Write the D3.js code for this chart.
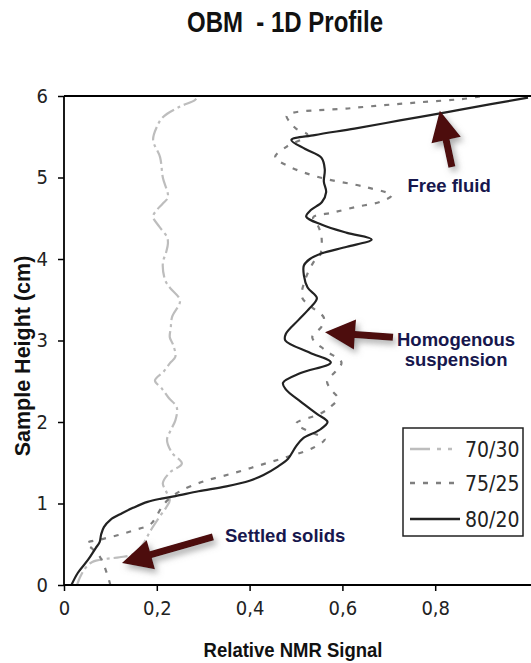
<!DOCTYPE html>
<html>
<head>
<meta charset="utf-8">
<script src="https://cdn.jsdelivr.net/npm/d3@7"></script>
<style>
  body { margin: 0; background: #fff; }
  svg { display: block; }
</style>
</head>
<body>
<svg id="chart" width="531" height="663"></svg>
<script>
// ---- data -------------------------------------------------------------
const titleText = "OBM  - 1D Profile";
const xAxisTitle = "Relative NMR Signal";
const yAxisTitle = "Sample Height (cm)";

const xTickValues = [0, 0.2, 0.4, 0.6, 0.8];
const yTickValues = [0, 1, 2, 3, 4, 5, 6];

const seriesNames = ["70/30", "75/25", "80/20"];

// 70/30 profile: height (cm) and relative NMR signal
const height7030 = [0, 0.1, 0.2, 0.28, 0.32, 0.34, 0.38, 0.5, 0.6, 0.7, 0.83, 0.95, 1.04, 1.15, 1.25, 1.38, 1.49, 1.62, 1.78, 1.9, 2.02, 2.18, 2.3, 2.41, 2.51, 2.62, 2.72, 2.8, 2.95, 3.04, 3.15, 3.29, 3.49, 3.65, 3.74, 3.95, 4.08, 4.19, 4.27, 4.4, 4.52, 4.6, 4.68, 4.76, 5.0, 5.25, 5.46, 5.62, 5.74, 5.87, 5.95, 6.0];
const signal7030 = [0.028, 0.035, 0.045, 0.06, 0.09, 0.12, 0.15, 0.17, 0.18, 0.19, 0.205, 0.22, 0.228, 0.22, 0.213, 0.228, 0.254, 0.233, 0.222, 0.23, 0.24, 0.243, 0.225, 0.211, 0.196, 0.215, 0.228, 0.24, 0.235, 0.228, 0.23, 0.233, 0.25, 0.228, 0.218, 0.213, 0.22, 0.224, 0.222, 0.205, 0.192, 0.2, 0.213, 0.224, 0.213, 0.207, 0.192, 0.2, 0.213, 0.25, 0.282, 0.29];

// 75/25 profile
const height7525 = [0, 0.15, 0.34, 0.45, 0.51, 0.56, 0.61, 0.67, 0.74, 0.83, 0.95, 1.05, 1.15, 1.27, 1.37, 1.47, 1.57, 1.68, 1.79, 1.88, 1.98, 2.1, 2.18, 2.29, 2.4, 2.5, 2.62, 2.73, 2.88, 3.04, 3.17, 3.28, 3.41, 3.53, 3.75, 3.98, 4.05, 4.27, 4.4, 4.51, 4.57, 4.64, 4.7, 4.78, 4.88, 5.0, 5.13, 5.25, 5.38, 5.52, 5.6, 5.66, 5.76, 5.85, 5.92, 5.97, 6.0];
const signal7525 = [0.1, 0.092, 0.078, 0.06, 0.048, 0.08, 0.115, 0.15, 0.185, 0.198, 0.21, 0.225, 0.25, 0.3, 0.364, 0.422, 0.48, 0.536, 0.562, 0.53, 0.5, 0.552, 0.573, 0.59, 0.575, 0.567, 0.585, 0.598, 0.563, 0.535, 0.555, 0.56, 0.534, 0.513, 0.52, 0.54, 0.552, 0.555, 0.548, 0.537, 0.58, 0.63, 0.681, 0.706, 0.652, 0.552, 0.487, 0.455, 0.48, 0.525, 0.5, 0.49, 0.48, 0.617, 0.76, 0.87, 0.9];

// 80/20 profile
const height8020 = [0, 0.15, 0.31, 0.45, 0.53, 0.62, 0.71, 0.8, 0.88, 0.95, 1.02, 1.06, 1.09, 1.15, 1.21, 1.28, 1.35, 1.45, 1.55, 1.7, 1.8, 1.9, 2.0, 2.1, 2.25, 2.4, 2.48, 2.6, 2.73, 2.85, 3.0, 3.08, 3.25, 3.4, 3.52, 3.65, 3.8, 3.92, 4.0, 4.07, 4.15, 4.24, 4.32, 4.42, 4.52, 4.6, 4.7, 4.82, 4.95, 5.1, 5.24, 5.35, 5.46, 5.52, 5.6, 5.7, 5.8, 5.9, 5.98];
const signal8020 = [0.016, 0.03, 0.052, 0.068, 0.077, 0.08, 0.086, 0.1, 0.125, 0.15, 0.18, 0.21, 0.24, 0.29, 0.35, 0.4, 0.43, 0.46, 0.483, 0.5, 0.515, 0.55, 0.568, 0.545, 0.51, 0.478, 0.472, 0.51, 0.575, 0.53, 0.477, 0.478, 0.505, 0.53, 0.545, 0.525, 0.517, 0.517, 0.53, 0.556, 0.61, 0.663, 0.61, 0.556, 0.522, 0.532, 0.556, 0.565, 0.56, 0.562, 0.555, 0.52, 0.49, 0.54, 0.626, 0.724, 0.823, 0.92, 1.0];

// annotation callouts: arrow tail/tip and label anchor, in data units
const calloutLabels = [["Free fluid"], ["Homogenous", "suspension"], ["Settled solids"]];
const calloutTail = [[0.836, 5.13], [0.709, 3.04], [0.321, 0.59]];
const calloutTip  = [[0.810, 5.82], [0.5625, 3.10], [0.125, 0.27]];
const calloutText = [[0.83, 4.82], [0.845, 2.93], [0.347, 0.53]];
const calloutAnchor = ["middle", "middle", "start"];

// ---- layout -----------------------------------------------------------
const W = 531, H = 663;
const plot = { left: 64, right: 528, top: 96, bottom: 585 };

const svg = d3.select("#chart");
const x = d3.scaleLinear().domain([0, 1]).range([plot.left, plot.right]);
const y = d3.scaleLinear().domain([0, 6]).range([plot.bottom, plot.top]);

const narrow = "'Liberation Sans Narrow', 'Arial Narrow', 'DejaVu Sans Condensed', sans-serif";
const sans = "'Liberation Sans', Arial, sans-serif";
const comma = d3.formatLocale({ decimal: ",", thousands: ".", grouping: [3], currency: ["", ""] }).format("~g");

const defs = svg.append("defs");
defs.append("clipPath").attr("id", "plotClip")
  .append("rect").attr("x", plot.left).attr("y", plot.top - 2)
  .attr("width", W - plot.left).attr("height", plot.bottom - plot.top + 2);
const shadow = defs.append("filter").attr("id", "arrowShadow")
  .attr("x", "-50%").attr("y", "-50%").attr("width", "200%").attr("height", "200%");
shadow.append("feDropShadow").attr("dx", 3).attr("dy", 4).attr("stdDeviation", 3)
  .attr("flood-color", "#777").attr("flood-opacity", 0.6);

// title
svg.append("text")
  .attr("transform", "translate(285,32) scale(1,1.22)")
  .attr("text-anchor", "middle")
  .attr("font-family", sans).attr("font-weight", "bold").attr("font-size", 24)
  .attr("fill", "#111")
  .style("white-space", "pre")
  .text(titleText);

// ---- series lines -----------------------------------------------------
const seriesData = [
  { name: seriesNames[0], h: height7030, s: signal7030, color: "#bdbdbd", dash: "14,4,3,4" },
  { name: seriesNames[1], h: height7525, s: signal7525, color: "#7f7f7f", dash: "5,8" },
  { name: seriesNames[2], h: height8020, s: signal8020, color: "#222222", dash: null }
];

const line = d3.line()
  .x(d => x(d[1]))
  .y(d => y(d[0]))
  .curve(d3.curveCatmullRom.alpha(0.5));

const lines = svg.append("g").attr("clip-path", "url(#plotClip)");
seriesData.forEach(sd => {
  const pts = sd.h.map((h, i) => [h, sd.s[i]]);
  lines.append("path")
    .datum(pts)
    .attr("fill", "none")
    .attr("stroke", sd.color)
    .attr("stroke-width", 2.2)
    .attr("stroke-linejoin", "round")
    .attr("stroke-dasharray", sd.dash)
    .attr("d", line);
});

// ---- axes -------------------------------------------------------------
const axisFont = g => g.selectAll("text")
  .attr("font-family", narrow).attr("font-size", 20).attr("fill", "#222");

const xAxis = svg.append("g")
  .attr("transform", `translate(0,${plot.bottom})`)
  .call(d3.axisBottom(x).tickValues(xTickValues).tickSize(6).tickPadding(10).tickFormat(comma))
  .call(g => g.select(".domain").remove())
  .call(axisFont);
xAxis.selectAll("line").attr("stroke", "#000").attr("stroke-width", 1.5);

const yAxis = svg.append("g")
  .attr("transform", `translate(${plot.left},0)`)
  .call(d3.axisLeft(y).tickValues(yTickValues).tickSize(6).tickPadding(10).tickFormat(d3.format("d")))
  .call(g => g.select(".domain").remove())
  .call(axisFont);
yAxis.selectAll("line").attr("stroke", "#000").attr("stroke-width", 1.5);

// frame lines: left axis, bottom axis, top edge
svg.append("line").attr("x1", plot.left).attr("x2", plot.left)
  .attr("y1", plot.top).attr("y2", plot.bottom + 0.75)
  .attr("stroke", "#000").attr("stroke-width", 1.8);
svg.append("line").attr("x1", plot.left).attr("x2", W)
  .attr("y1", plot.bottom).attr("y2", plot.bottom)
  .attr("stroke", "#000").attr("stroke-width", 1.8);
svg.append("line").attr("x1", plot.left).attr("x2", W)
  .attr("y1", plot.top).attr("y2", plot.top)
  .attr("stroke", "#000").attr("stroke-width", 1.8);

// axis titles
svg.append("text")
  .attr("transform", "translate(293,657) scale(1,1.1)")
  .attr("text-anchor", "middle")
  .attr("font-family", sans).attr("font-weight", "bold").attr("font-size", 18.5)
  .attr("fill", "#111")
  .text(xAxisTitle);

svg.append("text")
  .attr("transform", "translate(30,356) rotate(-90)")
  .attr("text-anchor", "middle")
  .attr("font-family", sans).attr("font-weight", "bold").attr("font-size", 21.5)
  .attr("fill", "#111")
  .text(yAxisTitle);

// ---- callout arrows and labels -----------------------------------------
function arrowPath(tail, tip) {
  const [x1, y1] = tail, [x2, y2] = tip;
  const len = Math.hypot(x2 - x1, y2 - y1);
  const ux = (x2 - x1) / len, uy = (y2 - y1) / len;
  const nx = -uy, ny = ux;
  const w = 3.5, hl = 30, hw = 15;
  const bx = x2 - ux * hl, by = y2 - uy * hl;
  const p = [
    [x1 + nx * w, y1 + ny * w],
    [bx + nx * w, by + ny * w],
    [bx + nx * hw, by + ny * hw],
    [x2, y2],
    [bx - nx * hw, by - ny * hw],
    [bx - nx * w, by - ny * w],
    [x1 - nx * w, y1 - ny * w]
  ];
  return "M" + p.map(q => q.join(",")).join("L") + "Z";
}

const callouts = svg.append("g");
calloutLabels.forEach((lab, i) => {
  const tail = [x(calloutTail[i][0]), y(calloutTail[i][1])];
  const tip = [x(calloutTip[i][0]), y(calloutTip[i][1])];
  callouts.append("path")
    .attr("d", arrowPath(tail, tip))
    .attr("fill", "#4e0b0f")
    .attr("filter", "url(#arrowShadow)");
  const t = callouts.append("text")
    .attr("x", x(calloutText[i][0]))
    .attr("y", y(calloutText[i][1]))
    .attr("text-anchor", calloutAnchor[i])
    .attr("font-family", sans).attr("font-weight", "bold").attr("font-size", 18.5)
    .attr("fill", "#17174d");
  lab.forEach((s, k) => {
    t.append("tspan").attr("x", x(calloutText[i][0])).attr("dy", k === 0 ? 0 : 20).text(s);
  });
});

// ---- legend -----------------------------------------------------------
const legend = svg.append("g");
legend.append("rect")
  .attr("x", 403).attr("y", 428).attr("width", 120).attr("height", 108)
  .attr("fill", "#fff").attr("stroke", "#222").attr("stroke-width", 1.5);
const legendRowY = [449, 483, 519];
seriesData.forEach((sd, i) => {
  legend.append("line")
    .attr("x1", 410).attr("x2", 460)
    .attr("y1", legendRowY[i]).attr("y2", legendRowY[i])
    .attr("stroke", sd.color).attr("stroke-width", 2.4)
    .attr("stroke-dasharray", i === 0 ? "20,7,4,7,4" : sd.dash);
  legend.append("text")
    .attr("x", 465).attr("y", legendRowY[i]).attr("dy", "0.36em")
    .attr("font-family", narrow).attr("font-size", 21)
    .attr("fill", "#222")
    .text(sd.name);
});
</script>
</body>
</html>
